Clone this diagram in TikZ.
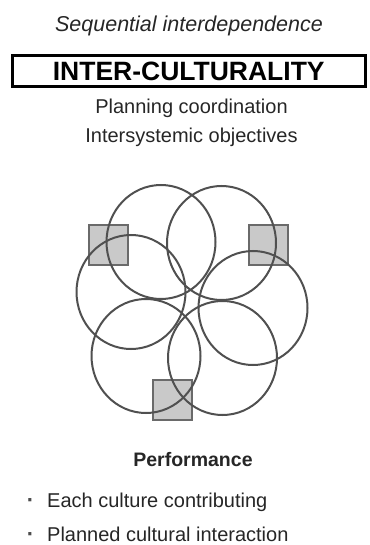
\documentclass[tikz,border=0pt]{standalone}
\usepackage{fontspec}
\setmainfont{Liberation Sans}
\usepackage{tikz}
\usetikzlibrary{positioning}
\definecolor{Ring}{HTML}{505050}
\definecolor{TileFill}{HTML}{C9C9C9}
\definecolor{TileEdge}{HTML}{6A6A6A}

\begin{document}
\begin{tikzpicture}[x=1pt,y=1pt,
  node distance=13pt,
  plaintext/.style={inner sep=0pt,anchor=base,font=\fontsize{20}{24}\selectfont,text=black!85},
  modetext/.style={plaintext,font=\fontsize{21.5}{25}\selectfont\itshape},
  headbox/.style={draw=black,line width=3pt,minimum width=352.5pt,minimum height=31pt,inner sep=0pt,font=\fontsize{26.5}{30}\selectfont\bfseries},
  itemtext/.style={plaintext,anchor=base west},
  dotmark/.style={plaintext,font=\fontsize{22}{24}\selectfont\bfseries,text=black!70},
  ring/.style={draw=Ring,line width=2pt},
  tile/.style={draw=TileEdge,fill=TileFill,line width=1.5pt}]
  \useasboundingbox (0,0) rectangle (369,-545);
  \node[modetext] (mode) at (189,-32) {Sequential interdependence};
  \node[headbox] (kind) at (188.75,-71.5) {INTER-CULTURALITY};
  \node[plaintext] (planning) at (191.5,-114) {Planning coordination};
  \node[plaintext] (objectives) at ([yshift=-28.5pt]planning.base) {Intersystemic objectives};
  % shaded tiles under the rings
  \foreach \x/\y in {89/225, 249/225, 153/380}
    \draw[tile] (\x,-\y) rectangle ++(39,-40);
  % six overlapping cultures
  \foreach \x/\y in {161/242, 221.5/243, 131/292, 253/308, 146/356, 222.5/358}
    \draw[ring] (\x,-\y) ellipse [x radius=54.5, y radius=57];
  \node[plaintext,font=\fontsize{19.5}{24}\selectfont\bfseries] (perf) at (193,-466) {Performance};
  \node[itemtext] (each) at (47,-507) {Each culture contributing};
  \node[itemtext] (planned) at (47,-541) {Planned cultural interaction};
  \node[dotmark,left=12.5pt of each.base west,anchor=base east] (dot1) {·};
  \node[dotmark,left=12.5pt of planned.base west,anchor=base east] (dot2) {·};
\end{tikzpicture}
\end{document}
